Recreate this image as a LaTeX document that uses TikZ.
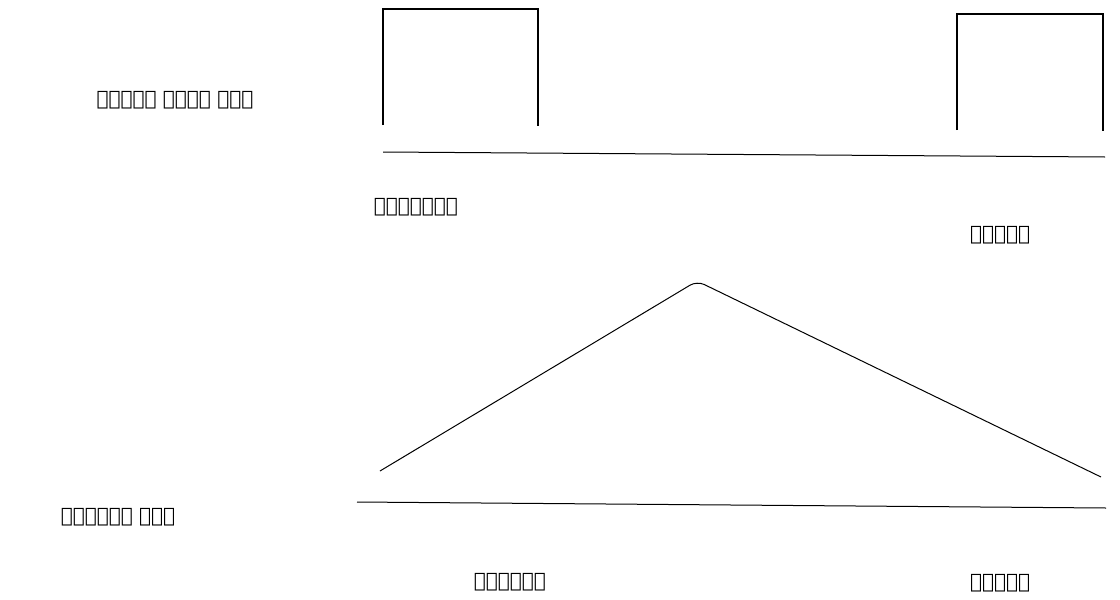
\documentclass[tikz,border=0pt]{standalone}
\usepackage{fontspec}
\newfontfamily\ethfont{DejaVu Sans}
\begin{document}
\begin{tikzpicture}[x=1pt,y=-1pt,
  lbl/.style={font=\ethfont\fontsize{20}{24}\selectfont, inner sep=0pt},
  ln/.style={line width=1pt, black},
  boxln/.style={line width=1.3pt, black}]
\useasboundingbox (0,0) rectangle (1120,600);
% top diagram
\node[lbl] (t1) at (175,100) {የቀደምት ምሁራን ትወራ};
\coordinate (b1a) at (383,125); \coordinate (b1b) at (383,9);
\coordinate (b1c) at (538,9); \coordinate (b1d) at (538,126);
\draw[boxln] (b1a) -- (b1b) -- (b1c) -- (b1d);
\coordinate (b2a) at (957,130); \coordinate (b2b) at (957,14);
\coordinate (b2c) at (1103,14); \coordinate (b2d) at (1103,131);
\draw[boxln] (b2a) -- (b2b) -- (b2c) -- (b2d);
\coordinate (base1l) at (383,152); \coordinate (base1r) at (1105,157);
\draw[ln] (base1l) -- (base1r);
\node[lbl] (p1) at (416,207) {የተሳታፊነት};
\node[lbl] (q1) at (1000,235) {ጭምትነት};
% bottom diagram
\node[lbl] (t2) at (118,517) {የአይሲንክ ትወራ};
\coordinate (trl) at (380,471); \coordinate (trp) at (697,281); \coordinate (trr) at (1101,477);
\draw[ln, rounded corners=8pt] (trl) -- (trp) -- (trr);
\coordinate (base2l) at (357,502); \coordinate (base2r) at (1106,508);
\draw[ln] (base2l) -- (base2r);
\node[lbl] (p2) at (510,582) {ተሳታፊነት};
\node[lbl] (q2) at (1000,583) {ጭምትነት};
\end{tikzpicture}
\end{document}
